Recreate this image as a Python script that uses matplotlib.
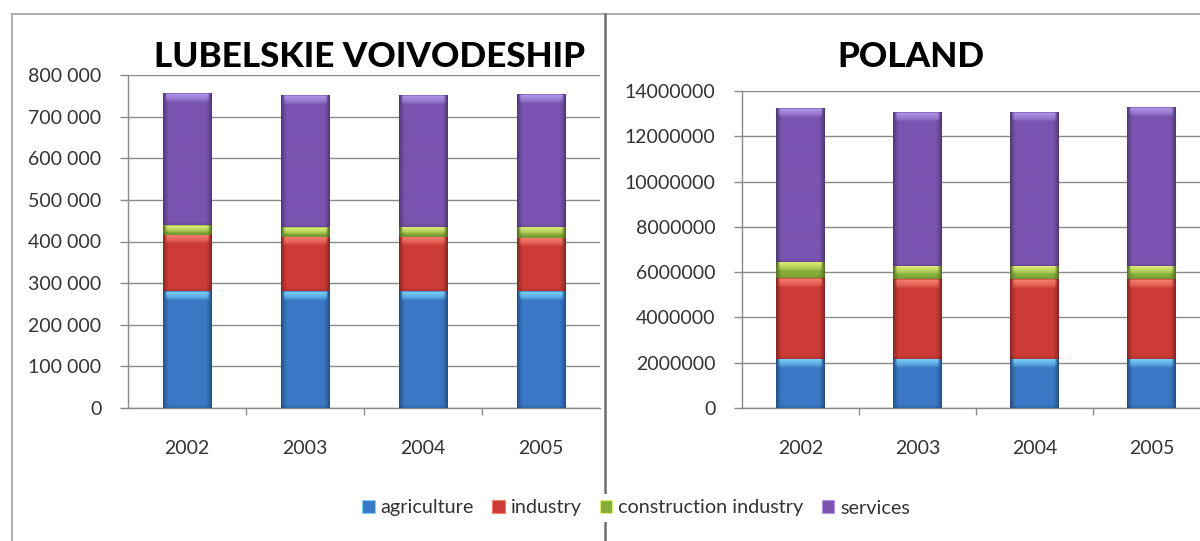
import numpy as np
import matplotlib
matplotlib.use("Agg")
import matplotlib.pyplot as plt
from matplotlib.patches import Patch
from matplotlib.lines import Line2D
from matplotlib.ticker import FuncFormatter, FixedLocator
from matplotlib.colors import to_rgb

# ---- data -----------------------------------------------------------------
years = ["2002", "2003", "2004", "2005"]
sectors = ["agriculture", "industry", "construction industry", "services"]

lub_agriculture = [280000, 280000, 280000, 280000]
lub_industry = [136000, 132000, 131000, 129000]
lub_construction = [24000, 24000, 25000, 27000]
lub_services = [315000, 315000, 315000, 319000]

pl_agriculture = [2170000, 2170000, 2170000, 2170000]
pl_industry = [3560000, 3520000, 3520000, 3520000]
pl_construction = [710000, 600000, 600000, 600000]
pl_services = [6760000, 6760000, 6760000, 7010000]

lub_ticks = [0, 100000, 200000, 300000, 400000, 500000, 600000, 700000, 800000]
pl_ticks = [0, 2000000, 4000000, 6000000, 8000000, 10000000, 12000000, 14000000]

# ---- style ----------------------------------------------------------------
base_colors = ["#3A78C6", "#CC3B37", "#86AC3A", "#7A54B0"]
highlight_colors = ["#7AD2F8", "#F6806E", "#E2F07A", "#B096E8"]
FONT = ["Lato", "DejaVu Sans"]
plt.rcParams["font.family"] = FONT
TICK_COLOR = "#333333"
GRID_COLOR = "#8a8a8a"

W, H, DPI = 1200, 541, 100
fig = plt.figure(figsize=(W / DPI, H / DPI), dpi=DPI)
fig.patch.set_facecolor("white")


def fx(px):
    return px / W


def fy(py):
    return 1 - py / H


def bevel_image(base, light, hp, wp):
    """RGB image giving an Excel-like bevel to one stacked segment."""
    hp = max(int(round(hp)), 2)
    wp = max(int(round(wp)), 2)
    base = np.array(to_rgb(base))
    light = np.array(to_rgb(light))
    dark = base * 0.6
    xs = (np.arange(wp) + 0.5)
    ys = np.arange(hp) + 0.5  # pixels from the top
    X, Y = np.meshgrid(xs, ys)
    edge = np.minimum(X, wp - X)
    # side shading
    side = np.clip(edge / 6.0, 0, 1) ** 0.7
    img = dark[None, None, :] * (1 - side[..., None]) + base[None, None, :] * side[..., None]
    # top highlight band with rounded inset
    band = min(8.0, hp * 0.6)
    vt = np.clip(1 - (Y - 1.0) / band, 0, 1)
    inset = np.clip((edge - 1.5) / 3.0, 0, 1)
    w = (vt ** 0.6) * inset * 0.95
    w[Y < 1.0] *= 0.4
    img = img * (1 - w[..., None]) + light[None, None, :] * w[..., None]
    # bottom shadow
    vb = np.clip(1 - (hp - Y) / 3.0, 0, 1) * 0.35
    img = img * (1 - vb[..., None]) + dark[None, None, :] * vb[..., None]
    return np.clip(img, 0, 1)


def stacked_panel(ax, series, ticks, formatter):
    x = np.arange(len(years))
    bottom = np.zeros(len(years))
    width = 0.415
    ax.set_xlim(-0.5, len(years) - 0.5)
    ax.set_ylim(ticks[0], ticks[-1])
    containers = []
    for vals, col in zip(series, base_colors):
        bars = ax.bar(x, vals, width, bottom=bottom, color=col, zorder=3,
                      linewidth=0)
        containers.append(bars)
        bottom = bottom + np.array(vals)
    # bevel overlay on every segment
    for bars, col, hl in zip(containers, base_colors, highlight_colors):
        for rect in bars:
            x0, y0 = rect.get_x(), rect.get_y()
            x1, y1 = x0 + rect.get_width(), y0 + rect.get_height()
            p0 = ax.transData.transform((x0, y0))
            p1 = ax.transData.transform((x1, y1))
            img = bevel_image(col, hl, p1[1] - p0[1], p1[0] - p0[0])
            ax.imshow(img, extent=(x0, x1, y0, y1), origin="upper",
                      aspect="auto", zorder=4, interpolation="bilinear")
    ax.set_xlim(-0.5, len(years) - 0.5)
    ax.set_ylim(ticks[0], ticks[-1])

    ax.set_yticks(ticks)
    ax.yaxis.set_major_formatter(FuncFormatter(formatter))
    ax.set_xticks(x)
    ax.set_xticklabels(years)
    ax.xaxis.set_minor_locator(FixedLocator([0.5, 1.5, 2.5]))
    ax.tick_params(axis="x", which="major", length=0, pad=23,
                   labelsize=14, labelcolor=TICK_COLOR)
    ax.tick_params(axis="x", which="minor", length=5, width=1,
                   color=GRID_COLOR, direction="out")
    ax.tick_params(axis="y", length=6, width=1, color=GRID_COLOR,
                   pad=13, labelsize=14, labelcolor=TICK_COLOR)
    ax.grid(axis="y", color=GRID_COLOR, linewidth=1.0, zorder=1)
    ax.set_axisbelow(True)
    for s in ("top", "right"):
        ax.spines[s].set_visible(False)
    for s in ("left", "bottom"):
        ax.spines[s].set_color(GRID_COLOR)
        ax.spines[s].set_linewidth(1.0)
    ax.set_facecolor("none")


# left panel: Lubelskie
ax1 = fig.add_axes([fx(128), fy(408), fx(600 - 128), fy(75) - fy(408)])
stacked_panel(ax1,
              [lub_agriculture, lub_industry, lub_construction, lub_services],
              lub_ticks,
              lambda v, p: f"{int(v):,}".replace(",", " "))

# right panel: Poland (the plot area runs past the right edge)
ax2 = fig.add_axes([fx(742), fy(408), fx(4 * 117), fy(91) - fy(408)])
stacked_panel(ax2,
              [pl_agriculture, pl_industry, pl_construction, pl_services],
              pl_ticks,
              lambda v, p: f"{int(v)}")

fig.text(fx(370), fy(57), "LUBELSKIE VOIVODESHIP", ha="center", va="center",
         fontsize=25.3, fontweight="black", color="black")
fig.text(fx(911), fy(57), "POLAND", ha="center", va="center",
         fontsize=25.3, fontweight="black", color="black")

# chart frames and divider
fig.add_artist(Line2D([fx(12), fx(12)], [fy(14), 0], color="#a6a6a6", lw=1.3))
fig.add_artist(Line2D([fx(12), 1], [fy(14), fy(14)], color="#a6a6a6", lw=1.3))
fig.add_artist(Line2D([fx(604.5), fx(604.5)], [fy(14), 0], color="#6e6e6e", lw=1.8))

# shared legend
handles = [Patch(facecolor=c, edgecolor=hl, linewidth=0.8)
           for c, hl in zip(base_colors, highlight_colors)]
leg = fig.legend(handles, sectors, loc="center", bbox_to_anchor=(fx(636), fy(508)),
                 ncol=4, frameon=True, fontsize=14.3, handlelength=0.65,
                 handleheight=0.65, handletextpad=0.3, columnspacing=0.9,
                 borderpad=0.3, labelcolor=TICK_COLOR)
leg.get_frame().set_facecolor("white")
leg.get_frame().set_edgecolor("none")
leg.get_frame().set_alpha(1)

fig.savefig("out.png", dpi=DPI)
